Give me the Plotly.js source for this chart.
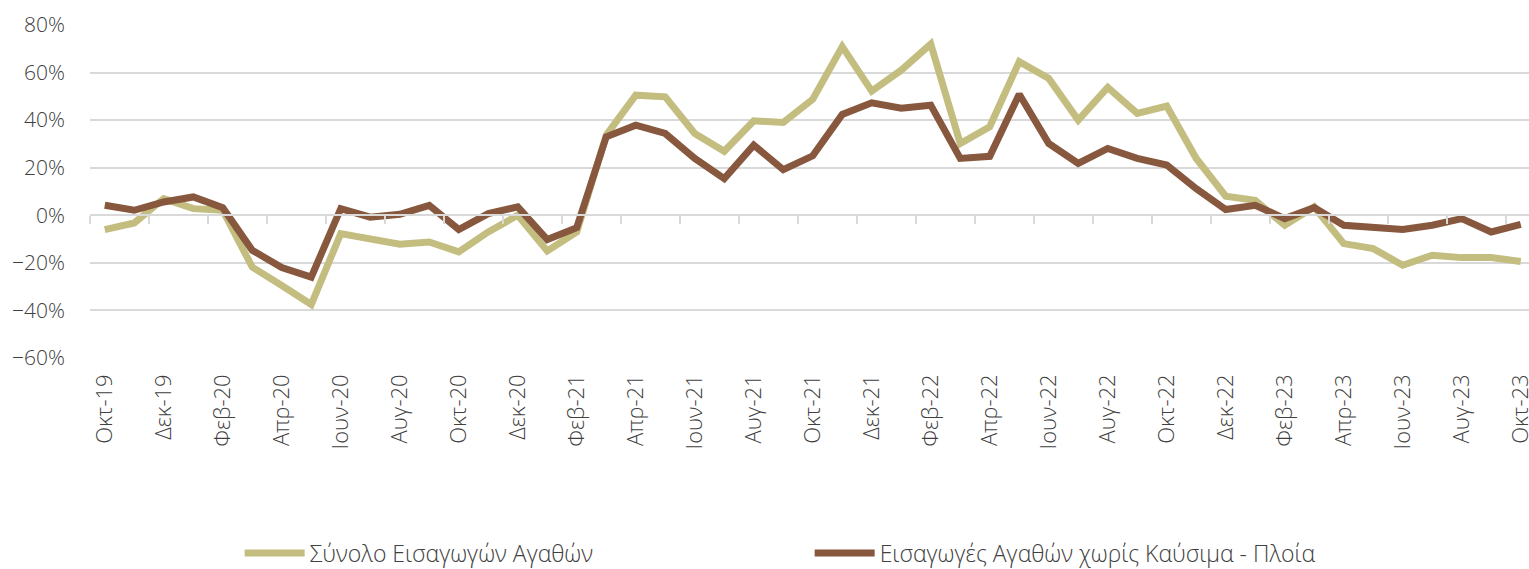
<!DOCTYPE html>
<html>
<head>
<meta charset="utf-8">
<script src="https://cdn.plot.ly/plotly-3.0.1.min.js"></script>
<style>
html,body{margin:0;padding:0;background:#fff;overflow:hidden;}
#chart{width:1529px;height:569px;}
</style>
</head>
<body>
<div id="chart"></div>
<script>
// Months Oct-19 .. Oct-23
const categories = [
 "Οκτ-19","Νοε-19","Δεκ-19","Ιαν-20","Φεβ-20","Μαρ-20","Απρ-20","Μαϊ-20","Ιουν-20","Ιουλ-20","Αυγ-20","Σεπ-20",
 "Οκτ-20","Νοε-20","Δεκ-20","Ιαν-21","Φεβ-21","Μαρ-21","Απρ-21","Μαϊ-21","Ιουν-21","Ιουλ-21","Αυγ-21","Σεπ-21",
 "Οκτ-21","Νοε-21","Δεκ-21","Ιαν-22","Φεβ-22","Μαρ-22","Απρ-22","Μαϊ-22","Ιουν-22","Ιουλ-22","Αυγ-22","Σεπ-22",
 "Οκτ-22","Νοε-22","Δεκ-22","Ιαν-23","Φεβ-23","Μαρ-23","Απρ-23","Μαϊ-23","Ιουν-23","Ιουλ-23","Αυγ-23","Σεπ-23",
 "Οκτ-23"
];

// Σύνολο Εισαγωγών Αγαθών (% y/y)
const totalImports = [
 -6.0, -3.2, 7.0, 2.8, 2.1, -21.8, -29.5, -37.5, -7.7, -10.0, -12.2, -11.2,
 -15.4, -7.0, 0.0, -15.0, -7.0, 33.7, 50.5, 49.8, 34.4, 26.9, 39.7, 39.0,
 48.8, 70.9, 52.2, 61.0, 72.0, 30.2, 37.2, 64.6, 57.5, 40.0, 53.8, 42.8,
 45.9, 23.9, 8.0, 6.3, -4.2, 3.5, -11.9, -14.0, -21.0, -16.8, -17.8, -17.8,
 -19.4
];

// Εισαγωγές Αγαθών χωρίς Καύσιμα - Πλοία (% y/y)
const importsExFuelShips = [
 4.2, 2.1, 5.6, 7.7, 3.2, -14.7, -22.0, -26.0, 2.8, -0.8, 0.4, 4.2,
 -6.0, 0.7, 3.5, -10.2, -5.2, 33.0, 37.9, 34.4, 23.9, 15.4, 29.5, 19.2,
 25.0, 42.4, 47.3, 45.0, 46.3, 23.9, 24.8, 50.9, 30.2, 21.8, 28.1, 23.9,
 21.1, 11.2, 2.4, 4.2, -1.4, 3.2, -4.2, -4.9, -6.0, -4.2, -1.4, -7.0,
 -3.8
];

const seriesNames = ["Σύνολο Εισαγωγών Αγαθών", "Εισαγωγές Αγαθών χωρίς Καύσιμα - Πλοία"];

const tickLabels = categories.filter((c, i) => i % 2 === 0);
// tick marks sit between categories, every two months
const tickMarkPos = [];
for (let i = 0; i < categories.length; i += 2) tickMarkPos.push(i - 0.5);

const FONT = "'Open Sans', 'Noto Sans', sans-serif";
const TXT = "#404040";
const GRID = "#d9d9d9";
const xRange = [-0.5, 48.28];

const traces = [
  {
    x: categories, y: totalImports, name: seriesNames[0], type: "scatter", mode: "lines",
    line: {color: "#c4bd80", width: 7}, hoverinfo: "x+y"
  },
  {
    x: categories, y: importsExFuelShips, name: seriesNames[1], type: "scatter", mode: "lines",
    line: {color: "#87573e", width: 7}, hoverinfo: "x+y"
  },
  {
    x: [0], y: [null], xaxis: "x2", yaxis: "y", showlegend: false, hoverinfo: "skip",
    mode: "lines", line: {width: 0}
  }
];

const layout = {
  width: 1529, height: 569,
  margin: {l: 90, r: 0, t: 25, b: 211, autoexpand: false},
  paper_bgcolor: "#ffffff", plot_bgcolor: "#ffffff",
  font: {family: FONT, color: TXT, size: 21, weight: 300},
  showlegend: true,
  legend: {
    orientation: "h", x: 0.104, xanchor: "left", y: -0.586, yanchor: "middle",
    font: {family: FONT, size: 23, color: TXT, weight: 300},
    entrywidth: 495, itemwidth: 60, traceorder: "normal", bgcolor: "rgba(0,0,0,0)",
    tracegroupgap: 0
  },
  xaxis: {
    type: "category", range: xRange, showgrid: false, zeroline: false, showline: false,
    ticks: "", tickmode: "array", tickvals: tickLabels, ticktext: tickLabels,
    tickangle: -90, ticklabelstandoff: 11,
    tickfont: {family: FONT, size: 22, color: TXT, weight: 300}
  },
  xaxis2: {
    overlaying: "x", anchor: "free", position: 60 / 140, side: "bottom",
    range: xRange, type: "linear", showgrid: false, zeroline: false,
    showline: true, linecolor: GRID, linewidth: 2,
    ticks: "outside", ticklen: 8, tickwidth: 2, tickcolor: GRID,
    tickmode: "array", tickvals: tickMarkPos, showticklabels: false
  },
  yaxis: {
    range: [-60, 80], dtick: 20, tick0: 0, ticksuffix: "%",
    showgrid: true, gridcolor: GRID, gridwidth: 2,
    zeroline: true, zerolinecolor: GRID, zerolinewidth: 2,
    showline: false, ticks: "", ticklabelstandoff: 24,
    tickfont: {family: FONT, size: 21, color: TXT, weight: 300}
  }
};

Plotly.newPlot("chart", traces, layout, {displayModeBar: false, staticPlot: true});
</script>
</body>
</html>
